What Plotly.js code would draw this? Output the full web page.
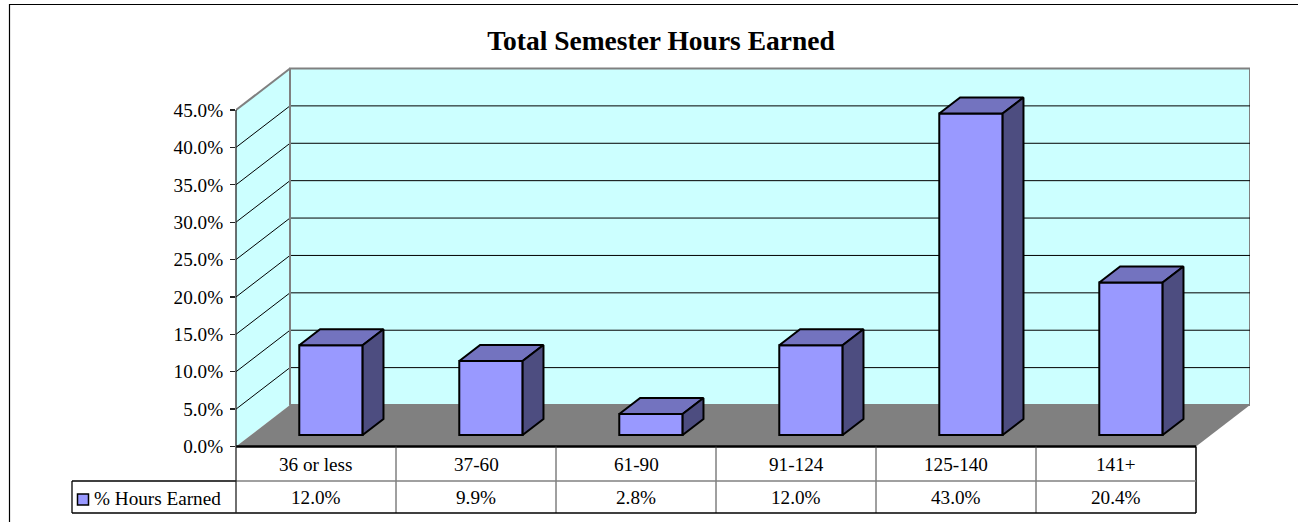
<!DOCTYPE html>
<html><head><meta charset="utf-8">
<script src="https://cdn.plot.ly/plotly-3.0.1.min.js"></script>
<style>html,body{margin:0;padding:0;background:#fff;} #chart{width:1298px;height:522px;}</style>
</head><body><div id="chart"></div>
<script>
// ---------- data ----------
const categories = ['36 or less', '37-60', '61-90', '91-124', '125-140', '141+'];
const seriesName = '% Hours Earned';
const hoursEarned = [12.0, 9.9, 2.8, 12.0, 43.0, 20.4];
const yTickValues = [0, 5, 10, 15, 20, 25, 30, 35, 40, 45];
const chartTitle = 'Total Semester Hours Earned';

// ---------- layout geometry ----------
const W = 1298, H = 522;
const M = {l: 236, r: 48, t: 60, b: 7};
const pxPerCat = 160, pxPerPct = 7.478;
const floorPx = 446.5;
const plotW = W - M.l - M.r, plotH = H - M.t - M.b;
const xRange = [-0.5, -0.5 + plotW / pxPerCat];
const yRange = [-(H - M.b - floorPx) / pxPerPct, (floorPx - M.t) / pxPerPct];
const dX = 54 / pxPerCat, dY = 41.5 / pxPerPct;
const yMax = yTickValues[yTickValues.length - 1];
const nCat = categories.length;
const frontD = 0.277, backD = 0.663, barW = 0.396;
const FONT = 'Liberation Serif, Times New Roman, serif';
const pxToY = p => (floorPx - p) / pxPerPct;
const toPaperX = X => (X - xRange[0]) / (xRange[1] - xRange[0]);
const pxToPaperX = p => (p - M.l) / plotW;
const pxToPaperY = p => (H - M.b - p) / plotH;
const xL = -0.5, xR = nCat - 0.5;

const C = {front: '#9999FF', top: '#7373BF', side: '#4D4D80', wall: '#CCFFFF', floor: '#808080', edge: '#808080'};

// ---------- traces ----------
const traces = [];
const fx = categories.map((c, i) => i + frontD * dX);
const base = frontD * dY;
traces.push({
  type: 'bar', x: fx, y: hoursEarned, base: hoursEarned.map(() => base), width: barW,
  marker: {color: C.front, line: {color: '#000', width: 2}}, showlegend: false, hoverinfo: 'skip'
});
const ddx = (backD - frontD) * dX, ddy = (backD - frontD) * dY;
hoursEarned.forEach((v, i) => {
  const l = fx[i] - barW / 2, r = fx[i] + barW / 2, t = base + v;
  traces.push({type: 'scatter', mode: 'lines', fill: 'toself', fillcolor: C.top,
    x: [l, r, r + ddx, l + ddx, l], y: [t, t, t + ddy, t + ddy, t],
    line: {color: '#000', width: 2}, showlegend: false, hoverinfo: 'skip'});
  traces.push({type: 'scatter', mode: 'lines', fill: 'toself', fillcolor: C.side,
    x: [r, r + ddx, r + ddx, r, r], y: [base, base + ddy, t + ddy, t, base],
    line: {color: '#000', width: 2}, showlegend: false, hoverinfo: 'skip'});
});

// ---------- shapes ----------
const shapes = [];
const P = pts => 'M' + pts.map(p => p[0] + ',' + p[1]).join('L') + 'Z';
shapes.push({type: 'path', layer: 'below', xref: 'x', yref: 'y', fillcolor: C.wall, line: {color: C.edge, width: 2},
  path: P([[xL + dX, dY], [xR + dX, dY], [xR + dX, yMax + dY], [xL + dX, yMax + dY]])});
shapes.push({type: 'path', layer: 'below', xref: 'x', yref: 'y', fillcolor: C.wall, line: {width: 0},
  path: P([[xL, 0], [xL + dX, dY], [xL + dX, yMax + dY], [xL, yMax]])});
shapes.push({type: 'path', layer: 'below', xref: 'x', yref: 'y', fillcolor: C.floor, line: {width: 0},
  path: P([[xL, 0], [xR, 0], [xR + dX, dY], [xL + dX, dY]])});
yTickValues.filter(v => v > 0 && v < yMax).forEach(v => {
  shapes.push({type: 'line', layer: 'below', xref: 'x', yref: 'y', x0: xL + dX, x1: xR + dX, y0: v + dY, y1: v + dY, line: {color: '#000', width: 1}});
  shapes.push({type: 'line', layer: 'below', xref: 'x', yref: 'y', x0: xL, x1: xL + dX, y0: v, y1: v + dY, line: {color: '#000', width: 1}});
});
shapes.push({type: 'line', layer: 'below', xref: 'x', yref: 'y', x0: xL, x1: xL + dX, y0: yMax, y1: yMax + dY, line: {color: C.edge, width: 2}});
shapes.push({type: 'line', layer: 'below', xref: 'x', yref: 'y', x0: xL + dX, x1: xL + dX, y0: dY, y1: yMax + dY, line: {color: C.edge, width: 2}});
shapes.push({type: 'line', xref: 'paper', yref: 'y', x0: 0, x1: toPaperX(xR), y0: 0, y1: 0, line: {color: '#000', width: 2.5}});
const r1 = pxToY(481), r2 = pxToY(513);
for (let i = 1; i < nCat; i++) {
  shapes.push({type: 'line', xref: 'x', yref: 'y', x0: i - 0.5, x1: i - 0.5, y0: 0, y1: r2, line: {color: '#404040', width: 1}});
}
shapes.push({type: 'line', xref: 'x', yref: 'y', x0: xR, x1: xR, y0: 0, y1: r2, line: {color: '#000', width: 1.5}});
shapes.push({type: 'line', xref: 'paper', yref: 'y', x0: 0, x1: toPaperX(xR), y0: r1, y1: r1, line: {color: '#808080', width: 1.5}});
shapes.push({type: 'line', xref: 'paper', yref: 'paper', x0: pxToPaperX(72), x1: 0, y0: pxToPaperY(481), y1: pxToPaperY(481), line: {color: '#000', width: 1.3}});
shapes.push({type: 'line', xref: 'paper', yref: 'paper', x0: pxToPaperX(72), x1: toPaperX(xR), y0: pxToPaperY(513), y1: pxToPaperY(513), line: {color: '#000', width: 1.3}});
shapes.push({type: 'line', xref: 'paper', yref: 'paper', x0: pxToPaperX(72), x1: pxToPaperX(72), y0: pxToPaperY(481), y1: pxToPaperY(513), line: {color: '#000', width: 1.3}});
shapes.push({type: 'line', xref: 'paper', yref: 'y', x0: 0, x1: 0, y0: r2, y1: yMax, line: {color: '#222', width: 1.3}});
shapes.push({type: 'rect', xref: 'paper', yref: 'paper', x0: pxToPaperX(77.5), x1: pxToPaperX(88.5), y0: pxToPaperY(505), y1: pxToPaperY(494), fillcolor: C.front, line: {color: '#000', width: 1.5}});
shapes.push({type: 'rect', xref: 'paper', yref: 'paper', x0: pxToPaperX(9.5), x1: pxToPaperX(W + 10), y0: pxToPaperY(H + 10), y1: pxToPaperY(4.5), line: {color: '#000', width: 1.2}, fillcolor: 'rgba(0,0,0,0)'});

// ---------- annotations ----------
const annotations = [];
const tf = {family: FONT, size: 19.2, color: '#000'};
categories.forEach((c, i) => {
  annotations.push({xref: 'x', yref: 'y', x: i, y: pxToY(464), text: c, showarrow: false, font: tf, xanchor: 'center', yanchor: 'middle'});
  annotations.push({xref: 'x', yref: 'y', x: i, y: pxToY(497.5), text: hoursEarned[i].toFixed(1) + '%', showarrow: false, font: tf, xanchor: 'center', yanchor: 'middle'});
});
annotations.push({xref: 'paper', yref: 'y', x: pxToPaperX(92), y: pxToY(498), text: seriesName, showarrow: false, font: tf, xanchor: 'left', yanchor: 'middle'});

const layout = {
  width: W, height: H, margin: M, paper_bgcolor: '#fff', plot_bgcolor: 'rgba(0,0,0,0)',
  font: {family: FONT},
  title: {text: chartTitle, font: {family: FONT, size: 27.5, color: '#000', weight: 'bold'}, x: 661 / W, xref: 'container', xanchor: 'center', y: 1 - 40 / H, yref: 'container', yanchor: 'middle'},
  xaxis: {range: xRange, visible: false, fixedrange: true},
  yaxis: {range: yRange, tickvals: yTickValues, ticktext: yTickValues.map(v => v.toFixed(1) + '%'),
    ticks: 'outside', ticklen: 5, tickcolor: '#222', tickwidth: 1.3, showgrid: false, zeroline: false, showline: false,
    tickfont: tf, ticklabelstandoff: 3, fixedrange: true},
  barmode: 'overlay', showlegend: false, hovermode: false,
  shapes: shapes, annotations: annotations
};
Plotly.newPlot('chart', traces, layout, {staticPlot: true, displayModeBar: false});
</script>
</body></html>
